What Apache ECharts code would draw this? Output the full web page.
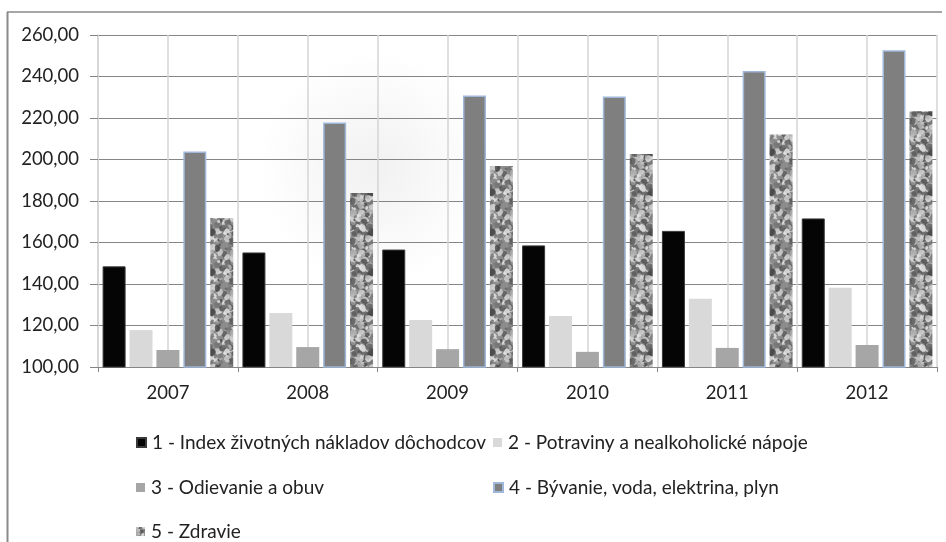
<!DOCTYPE html>
<html>
<head>
<meta charset="utf-8">
<script src="https://cdn.jsdelivr.net/npm/echarts@6/dist/echarts.min.js"></script>
<style>
  html, body { margin: 0; padding: 0; background: #fff; }
  #main { width: 946px; height: 542px; }
</style>
</head>
<body>
<div id="main"></div>
<script>
// values
const years = ['2007', '2008', '2009', '2010', '2011', '2012'];
const halfSlots = ['', '', '', '', '', '', '', '', '', '', '', ''];
const indexCosts = [148.5, 155.2, 156.6, 158.6, 165.6, 171.6];
const food = [117.8, 126.0, 122.6, 124.6, 132.9, 138.2];
const clothes = [108.2, 109.6, 108.6, 107.3, 109.2, 110.6];
const housing = [203.8, 217.8, 230.8, 230.4, 242.6, 252.6];
const health = [171.8, 183.8, 196.9, 202.7, 212.0, 223.3];
const names = [
  '1 - Index životných nákladov dôchodcov',
  '2 - Potraviny a nealkoholické nápoje',
  '3 - Odievanie a obuv',
  '4 - Bývanie, voda, elektrina, plyn',
  '5 - Zdravie'
];

// mottled grey texture for the health bars (fixed seed, purely decorative)
function makeTexture() {
  var c = document.createElement('canvas');
  c.width = 40; c.height = 40;
  var g = c.getContext('2d');
  g.fillStyle = '#8c8c8c';
  g.fillRect(0, 0, 40, 40);
  var seed = 7;
  function rnd() { seed = (seed * 16807) % 2147483647; return seed / 2147483647; }
  var greys = ['#4a4a4a', '#5e5e5e', '#747474', '#b4b4b4', '#d2d2d2', '#e8e8e8'];
  for (var i = 0; i < 150; i++) {
    var x = rnd() * 40, y = rnd() * 40, r = 0.8 + rnd() * 2.4;
    g.fillStyle = greys[Math.floor(rnd() * greys.length)];
    g.globalAlpha = 0.8;
    for (var dx = -40; dx <= 40; dx += 40) {
      for (var dy = -40; dy <= 40; dy += 40) {
        g.beginPath();
        g.ellipse(x + dx, y + dy, r * 1.3, r, rnd() * 3, 0, Math.PI * 2);
        g.fill();
      }
    }
  }
  g.globalAlpha = 1;
  return c;
}

var chartDom = document.getElementById('main');
var myChart = echarts.init(chartDom, null, { renderer: 'canvas' });
var font = 'Lato, "Open Sans", sans-serif';

function bar(name, data, style) {
  return {
    name: name,
    type: 'bar',
    data: data,
    barWidth: 23,
    barGap: '17%',
    itemStyle: style
  };
}

function legendAt(name, left, top) {
  return {
    data: [name],
    left: left,
    top: top,
    itemWidth: 9,
    itemHeight: 9,
    itemGap: 0,
    icon: 'rect',
    selectedMode: false,
    textStyle: { fontFamily: font, fontSize: 19, color: '#222', padding: [0, 0, 0, 1] }
  };
}

var option = {
  animation: false,
  backgroundColor: '#fff',
  textStyle: { fontFamily: font },
  grid: {
    left: 98, right: 9, top: 35, bottom: 175,
    show: true,
    borderWidth: 0,
    backgroundColor: new echarts.graphic.RadialGradient(0.33, 0.4, 0.35, [
      { offset: 0, color: '#f1f1f1' },
      { offset: 1, color: '#ffffff' }
    ])
  },
  graphic: [
    { type: 'line', shape: { x1: 7, y1: 12, x2: 942, y2: 12 }, style: { stroke: '#8a8a8a', lineWidth: 1.5 }, z: 10 },
    { type: 'line', shape: { x1: 7.5, y1: 12, x2: 7.5, y2: 542 }, style: { stroke: '#8a8a8a', lineWidth: 2 }, z: 10 }
  ],
  legend: [
    legendAt(names[0], 131, 428),
    legendAt(names[1], 488, 428),
    legendAt(names[2], 131, 473),
    legendAt(names[3], 488, 473),
    legendAt(names[4], 131, 517)
  ],
  xAxis: [
    {
      type: 'category',
      data: years,
      axisLine: { lineStyle: { color: '#868686', width: 1 } },
      axisTick: { show: true, length: 5, lineStyle: { color: '#868686' } },
      axisLabel: { margin: 17, fontSize: 18.5, color: '#222', fontFamily: font },
      splitLine: { show: false }
    },
    {
      type: 'category',
      data: halfSlots,
      position: 'bottom',
      axisLine: { show: false },
      axisTick: { show: false },
      axisLabel: { show: false },
      splitLine: { show: true, lineStyle: { color: '#d4d4d4', width: 1.5 } }
    }
  ],
  yAxis: {
    type: 'value',
    min: 100,
    max: 260,
    interval: 20,
    axisLine: { show: true, lineStyle: { color: '#d4d4d4', width: 1.5 } },
    axisTick: { show: true, length: 8, lineStyle: { color: '#868686' } },
    axisLabel: {
      margin: 19,
      fontSize: 18.5,
      color: '#222',
      fontFamily: font,
      formatter: function (v) { return v.toFixed(2).replace('.', ','); }
    },
    splitLine: { show: true, lineStyle: { color: '#868686', width: 1 } }
  },
  series: [
    bar(names[0], indexCosts, { color: '#050505', borderColor: '#3a3a3a', borderWidth: 1 }),
    bar(names[1], food, { color: '#d9d9d9' }),
    bar(names[2], clothes, { color: '#a6a6a6' }),
    bar(names[3], housing, { color: '#7f7f7f', borderColor: '#9fb7d9', borderWidth: 1.5 }),
    bar(names[4], health, { color: { image: makeTexture(), repeat: 'repeat' } })
  ]
};

option && myChart.setOption(option);
</script>
</body>
</html>
